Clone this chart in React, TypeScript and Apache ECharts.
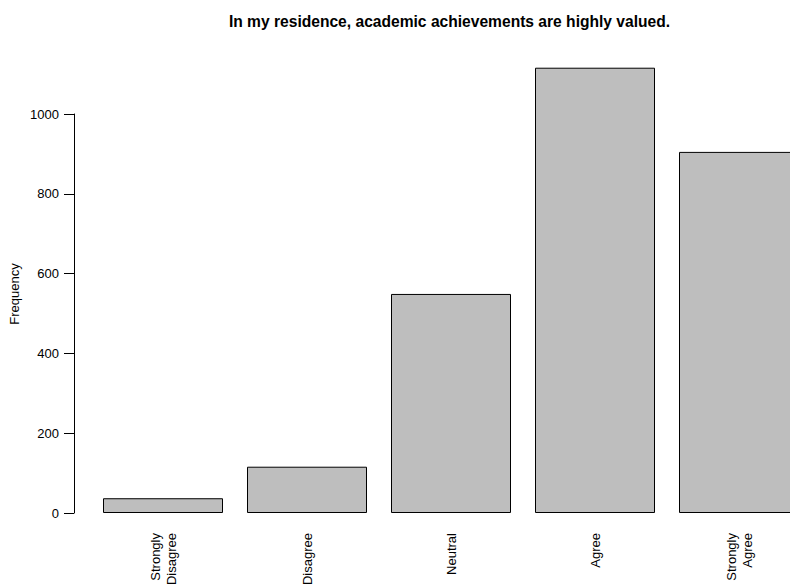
import React, { useEffect, useRef } from "react";
import * as echarts from "echarts";

const categories = ["Strongly\nDisagree", "Disagree", "Neutral", "Agree", "Strongly\nAgree"];
const frequencies = [37, 116, 549, 1116, 905];
const yTicks = [0, 200, 400, 600, 800, 1000];
const titleText = "In my residence, academic achievements are highly valued.";
const yName = "Frequency";

export default function App() {
  const ref = useRef<HTMLDivElement>(null);
  useEffect(() => {
    document.body.style.margin = "0";
    const chart = echarts.init(ref.current!, null, { renderer: "svg" });
    const font = "Liberation Sans, Arial, Helvetica, sans-serif";
    chart.setOption({
      animation: false,
      backgroundColor: "#ffffff",
      title: {
        text: titleText,
        left: 449.5,
        top: 13,
        padding: 0,
        textAlign: "center",
        textStyle: { fontFamily: font, fontWeight: "bold", fontSize: 15.6, color: "#000" },
      },
      graphic: [
        {
          type: "text",
          x: 14,
          y: 294,
          rotation: Math.PI / 2,
          style: {
            text: yName,
            fontFamily: font,
            fontSize: 13,
            fill: "#000",
            textAlign: "center",
            textVerticalAlign: "middle",
          },
        },
      ],
      grid: [
        { left: 91, width: 720, top: 34.2, bottom: 73, outerBoundsMode: "none", containLabel: false },
        { left: 74, width: 10, top: 114, bottom: 73, outerBoundsMode: "none", containLabel: false },
      ],
      xAxis: [
        {
          type: "category",
          gridIndex: 0,
          data: categories,
          axisLine: { show: false },
          axisTick: { show: false },
          axisLabel: {
            rotate: 90,
            margin: 20,
            fontFamily: font,
            fontSize: 13,
            lineHeight: 16,
            color: "#000",
            interval: 0,
          },
        },
        { type: "value", gridIndex: 1, show: false },
      ],
      yAxis: [
        { type: "value", gridIndex: 0, min: 0, max: 1200, show: false, splitLine: { show: false } },
        {
          type: "value",
          gridIndex: 1,
          min: yTicks[0],
          max: yTicks[yTicks.length - 1],
          interval: 200,
          axisLine: { show: true, lineStyle: { color: "#000", width: 1 } },
          axisTick: { show: true, length: 10, lineStyle: { color: "#000" } },
          axisLabel: {
            margin: 15,
            fontFamily: font,
            fontSize: 13,
            color: "#000",
            formatter: (v: number) => String(v),
          },
          splitLine: { show: false },
        },
      ],
      series: [
        {
          type: "bar",
          xAxisIndex: 0,
          yAxisIndex: 0,
          data: frequencies,
          barWidth: 120,
          clip: false,
          itemStyle: { color: "#bebebe", borderColor: "#000", borderWidth: 1 },
        },
      ],
    });
    return () => chart.dispose();
  }, []);
  return <div ref={ref} style={{ width: 790, height: 586 }} />;
}
